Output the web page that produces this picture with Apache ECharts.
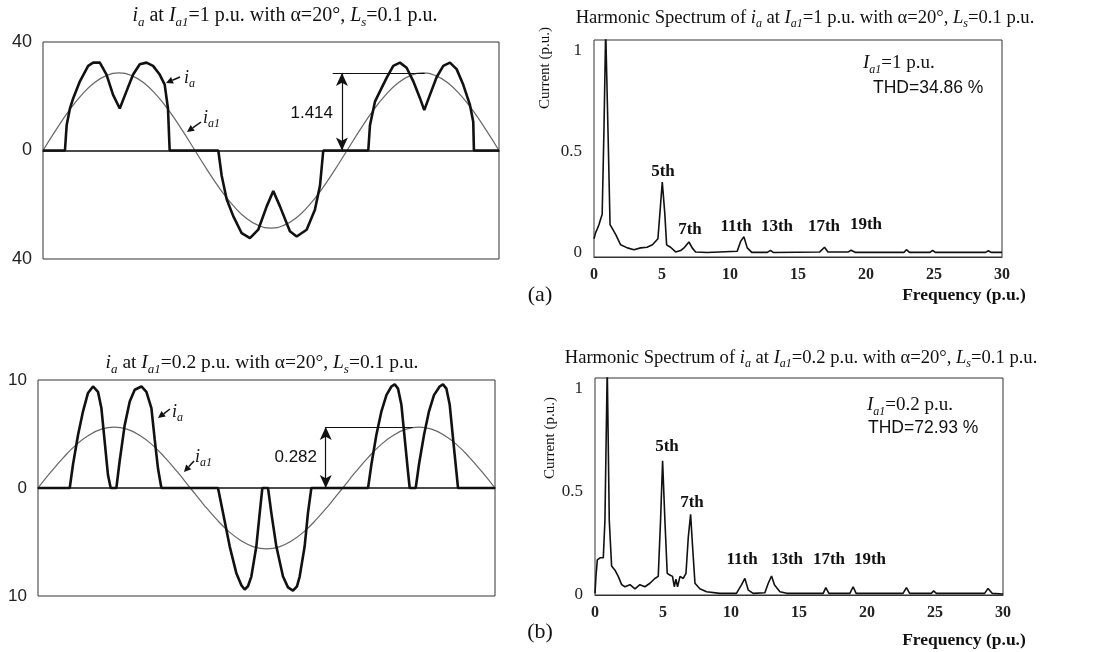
<!DOCTYPE html>
<html>
<head>
<meta charset="utf-8">
<script src="https://cdn.jsdelivr.net/npm/echarts@6/dist/echarts.min.js"></script>
<style>
  html, body { margin: 0; padding: 0; background: #fff; }
  #main { width: 1104px; height: 652px; }
</style>
</head>
<body>
<div id="main"></div>
<script>
// phase angle (deg) used for the fundamental samples
var angles = [0,15,30,45,60,75,90,105,120,135,150,165,180,195,210,225,240,255,270,285,300,315,330,345,360,375,390,405,420,435,450,465,480,495,510,525,540];
// i_a1 at Ia1 = 1 p.u.
var fundTop = [0,7.4,14.3,20.2,24.8,27.6,28.6,27.6,24.8,20.2,14.3,7.4,0,-7.4,-14.3,-20.2,-24.8,-27.6,-28.6,-27.6,-24.8,-20.2,-14.3,-7.4,0,7.4,14.3,20.2,24.8,27.6,28.6,27.6,24.8,20.2,14.3,7.4,0];
// i_a1 at Ia1 = 0.2 p.u.
var fundBot = [0,1.46,2.82,3.99,4.88,5.45,5.64,5.45,4.88,3.99,2.82,1.46,0,-1.46,-2.82,-3.99,-4.88,-5.45,-5.64,-5.45,-4.88,-3.99,-2.82,-1.46,0,1.46,2.82,3.99,4.88,5.45,5.64,5.45,4.88,3.99,2.82,1.46,0];

// i_a at Ia1 = 1 p.u.
var iaTopX = [0,26,28,31.9,35.8,43.7,53.5,59.4,67.3,75.2,83,90.9,98.8,106.7,114.6,122.5,130.3,138.2,144.1,148,150,
  207.6,211.6,217.5,225.3,235.3,245.1,254.9,264.9,272.7,280.6,292.4,300.4,312.2,322,328,331.9,
  385.2,387.2,393.1,399,406.9,414.8,422.7,430.6,438.4,446.4,451.5,458.2,466.1,474,481.9,489.8,497.6,505.6,509.5,510.3,540];
var iaTopY = [0,0,9.3,15.5,19.3,25.5,31.2,32.4,32.4,28,20.5,15.5,21.8,28,31.8,32.4,31.2,28,24.3,15.5,0,
  0,-9.3,-18,-24.2,-30.5,-32.3,-29.2,-20.6,-14.9,-20.6,-29.8,-31.7,-29.2,-21.8,-13,0,
  0,9.3,18,21.8,26.8,31.2,32.4,30.5,25.6,19.3,14.9,20.5,27,31.2,32.4,30,24.3,16.8,10.6,0,0];

// i_a at Ia1 = 0.2 p.u.
var iaBotX = [0,37.5,41.4,47.3,53.2,59.1,65,70.9,74.9,78.8,82.7,85.9,92.6,96.5,102.4,108.4,114.3,122.2,128.1,134,137.9,141.8,145.8,
  212.7,218.6,226.5,234.4,240.3,244.2,248.1,252.1,258,262,265.1,271.8,275.7,281.6,289.5,295.4,301.3,306,309.2,315.1,319,323,
  390,394,399.8,405.8,411.7,417.6,421.5,425.4,429.4,433.3,437.2,439.2,446.3,450.2,456.1,462,467.9,474.6,478.5,482.6,486.5,490.4,494.4,496.3,540];
var iaBotY = [0,0,2.2,4.9,7.1,8.8,9.4,8.9,7.4,4.3,1.2,0,0,2.5,5.8,8,9.1,9.4,8.9,7.4,4.5,1.8,0,
  0,-2.3,-5.4,-7.9,-9,-9.4,-9.1,-8.2,-5.4,-2.3,0,0,-2.3,-5.4,-8.2,-9.2,-9.5,-9.1,-8.2,-5.4,-2.3,0,
  0,2.2,4.9,7.1,8.6,9.4,9.6,9.2,7.7,4.6,1.5,0,0,2.2,4.9,7.1,8.6,9.4,9.6,9.2,7.7,4.6,1.5,0,0];

// harmonic spectrum, Ia1 = 1 p.u.
var specTopF = [0,0.12,0.25,0.37,0.5,0.6,0.73,0.86,1.03,1.18,1.35,1.6,1.96,2.45,2.94,3.43,3.9,4.3,4.5,4.7,4.85,5.02,5.2,5.34,5.63,6,6.37,6.66,6.98,7.22,7.47,8.33,10.53,10.78,11.02,11.27,11.6,12.74,12.98,13.2,16.6,16.95,17.2,18.7,18.9,19.2,22.8,22.97,23.2,24.7,24.9,25.1,28.8,29,29.2,30];
var specTopI = [0.07,0.1,0.12,0.14,0.17,0.19,0.6,1.1,0.6,0.14,0.12,0.09,0.04,0.025,0.016,0.025,0.028,0.04,0.055,0.07,0.2,0.35,0.2,0.04,0.028,0.005,0.012,0.028,0.054,0.025,0.005,0.002,0.008,0.057,0.08,0.025,0.003,0.003,0.013,0.002,0.005,0.028,0.005,0.005,0.013,0.003,0.003,0.016,0.003,0.003,0.013,0.003,0.003,0.011,0.003,0.003];

// harmonic spectrum, Ia1 = 0.2 p.u.
var specBotF = [0,0.07,0.17,0.37,0.61,0.73,0.9,1.05,1.22,1.47,1.71,1.96,2.2,2.57,2.94,3.3,3.67,4.04,4.4,4.65,4.82,4.97,5.14,5.31,5.5,5.7,5.83,5.95,6.07,6.25,6.49,6.69,6.86,7.03,7.18,7.35,7.71,8.2,9.18,10.4,10.78,11.02,11.27,11.63,12.49,12.74,12.98,13.2,13.6,14.1,16.78,16.97,17.2,18.74,18.98,19.2,22.65,22.9,23.14,24.74,24.9,25.1,28.65,28.9,29.2,30];
var specBotI = [0.008,0.09,0.17,0.18,0.18,0.36,1.1,0.36,0.14,0.12,0.09,0.05,0.04,0.05,0.03,0.05,0.04,0.057,0.08,0.09,0.36,0.65,0.36,0.105,0.097,0.09,0.04,0.076,0.04,0.09,0.08,0.105,0.28,0.39,0.23,0.057,0.03,0.016,0.008,0.008,0.05,0.08,0.024,0.008,0.011,0.057,0.092,0.048,0.016,0.008,0.008,0.036,0.008,0.008,0.04,0.008,0.008,0.036,0.008,0.008,0.02,0.008,0.008,0.032,0.008,0.005];

var harmLabels = ['5th','7th','11th','13th','17th','19th'];

function zip(xs, ys) { return xs.map(function (x, i) { return [x, ys[i]]; }); }

var SERIF = 'Liberation Serif', SANS = 'Liberation Sans';

function rich(fs) {
  return {
    i: { fontStyle: 'italic', fontSize: fs, fontFamily: SERIF, lineHeight: fs + 6 },
    s: { fontStyle: 'italic', fontSize: Math.round(fs * 0.65), fontFamily: SERIF, lineHeight: Math.round(fs * 0.65), verticalAlign: 'bottom' }
  };
}

function T(x, y, text, o) {
  o = o || {};
  var fs = o.fs || 15;
  return {
    type: 'text', x: x, y: y, rotation: o.rot || 0, silent: true, z: 100,
    style: {
      text: text, fontFamily: o.ff || SERIF, fontSize: fs, fontWeight: o.fw || 'normal',
      fill: '#111', lineHeight: fs + 6,
      align: o.al || 'left', textAlign: o.al || 'left',
      verticalAlign: 'middle', textVerticalAlign: 'middle',
      rich: rich(fs)
    }
  };
}

function arrow(x1, y1, x2, y2) {
  var dx = x2 - x1, dy = y2 - y1, L = Math.sqrt(dx * dx + dy * dy);
  var ux = dx / L, uy = dy / L;
  var bx = x2 - ux * 7, by = y2 - uy * 7, px = -uy * 3.5, py = ux * 3.5;
  return [
    { type: 'line', silent: true, z: 100, shape: { x1: x1, y1: y1, x2: bx, y2: by }, style: { stroke: '#111', lineWidth: 1.5 } },
    { type: 'polygon', silent: true, z: 100, shape: { points: [[x2, y2], [bx + px, by + py], [bx - px, by - py]] }, style: { fill: '#111' } }
  ];
}

var gridBase = { show: true, borderColor: '#333', borderWidth: 1, backgroundColor: '#fff', containLabel: false };

function waveX(gi) {
  return {
    gridIndex: gi, type: 'value', min: 0, max: 540,
    axisLine: { onZero: true, lineStyle: { color: '#111', width: 1.5 } },
    axisTick: { show: false }, axisLabel: { show: false }, splitLine: { show: false }
  };
}
function waveY(gi, lim, fs) {
  return {
    gridIndex: gi, type: 'value', min: -lim, max: lim, interval: lim,
    axisLine: { show: false }, axisTick: { show: false }, splitLine: { show: false },
    axisLabel: { formatter: function (v) { return String(Math.abs(v)); }, fontFamily: SANS, fontSize: fs, color: '#222', margin: 11 }
  };
}
function specX(gi) {
  return {
    gridIndex: gi, type: 'value', min: 0, max: 30, interval: 5,
    axisLine: { show: true, onZero: false, lineStyle: { color: '#333' } },
    axisTick: { show: false }, splitLine: { show: false },
    axisLabel: { fontFamily: SERIF, fontSize: 16, fontWeight: 'bold', color: '#222', margin: 10 }
  };
}
function specY(gi, mn) {
  return {
    gridIndex: gi, type: 'value', min: mn, max: 1.05,
    axisLine: { show: false }, axisTick: { show: false }, splitLine: { show: false },
    axisLabel: { customValues: [0, 0.5, 1], fontFamily: SERIF, fontSize: 17, color: '#222', margin: 12 }
  };
}

var fundStyle = { color: '#666', width: 1.2 };
var iaStyle = { color: '#111', width: 2.6 };
var specStyle = { color: '#111', width: 1.6 };

function annot(xv, x0, x1, yv) {
  return {
    silent: true, animation: false, symbol: ['none', 'none'], label: { show: false },
    lineStyle: { color: '#111', width: 1.2, type: 'solid' },
    data: [
      [{ coord: [x0, yv] }, { coord: [x1, yv] }],
      [{ coord: [xv, yv], symbol: 'arrow', symbolSize: [9, 13] }, { coord: [xv, 0], symbol: 'arrow', symbolSize: [9, 13] }]
    ]
  };
}

var chart = echarts.init(document.getElementById('main'));

var graphics = [
  T(285, 16, '{i|i}{s|a} at {i|I}{s|a1}=1 p.u. with α=20°, {i|L}{s|s}=0.1 p.u.', { fs: 20, al: 'center' }),
  T(805, 18, 'Harmonic Spectrum of {i|i}{s|a} at {i|I}{s|a1}=1 p.u. with α=20°, {i|L}{s|s}=0.1 p.u.', { fs: 18.6, al: 'center' }),
  T(262, 363, '{i|i}{s|a} at {i|I}{s|a1}=0.2 p.u. with α=20°, {i|L}{s|s}=0.1 p.u.', { fs: 19.5, al: 'center' }),
  T(801, 358, 'Harmonic Spectrum of {i|i}{s|a} at {i|I}{s|a1}=0.2 p.u. with α=20°, {i|L}{s|s}=0.1 p.u.', { fs: 18.6, al: 'center' }),

  T(184, 78, '{i|i}{s|a}', { fs: 18 }),
  T(203, 118, '{i|i}{s|a1}', { fs: 18 }),
  T(172, 412, '{i|i}{s|a}', { fs: 18 }),
  T(195, 457, '{i|i}{s|a1}', { fs: 18 }),
  T(333, 113, '1.414', { ff: SANS, fs: 17, al: 'right' }),
  T(317, 457, '0.282', { ff: SANS, fs: 17, al: 'right' }),

  T(545, 68, 'Current (p.u.)', { fs: 15, al: 'center', rot: Math.PI / 2 }),
  T(550, 438, 'Current (p.u.)', { fs: 15, al: 'center', rot: Math.PI / 2 }),
  T(964, 295, 'Frequency (p.u.)', { fs: 17.5, fw: 'bold', al: 'center' }),
  T(964, 640, 'Frequency (p.u.)', { fs: 17.5, fw: 'bold', al: 'center' }),
  T(540, 295, '(a)', { fs: 22, al: 'center' }),
  T(540, 632, '(b)', { fs: 22, al: 'center' }),

  T(863, 63, '{i|I}{s|a1}=1 p.u.', { fs: 19 }),
  T(873, 88, 'THD=34.86 %', { ff: SANS, fs: 17.5 }),
  T(867, 405, '{i|I}{s|a1}=0.2 p.u.', { fs: 19 }),
  T(868, 428, 'THD=72.93 %', { ff: SANS, fs: 17.5 })
];

var topLabelPos = [[663, 172], [690, 230], [736, 227], [777, 227], [824, 227], [866, 225]];
var botLabelPos = [[667, 447], [692, 503], [742, 560], [787, 560], [829, 560], [870, 560]];
harmLabels.forEach(function (h, k) {
  graphics.push(T(topLabelPos[k][0], topLabelPos[k][1], h, { fs: 17, fw: 'bold', al: 'center' }));
  graphics.push(T(botLabelPos[k][0], botLabelPos[k][1], h, { fs: 17, fw: 'bold', al: 'center' }));
});

graphics = graphics
  .concat(arrow(180, 77, 166, 83))
  .concat(arrow(201, 122, 187, 132))
  .concat(arrow(170, 409, 158, 418))
  .concat(arrow(194, 461, 184, 472));

chart.setOption({
  animation: false,
  backgroundColor: '#fff',
  grid: [
    Object.assign({ left: 43, top: 42, width: 456, height: 217 }, gridBase),
    Object.assign({ left: 594, top: 40, width: 408, height: 217 }, gridBase),
    Object.assign({ left: 38, top: 380, width: 457, height: 216 }, gridBase),
    Object.assign({ left: 595, top: 378, width: 408, height: 217 }, gridBase)
  ],
  xAxis: [waveX(0), specX(1), waveX(2), specX(3)],
  yAxis: [waveY(0, 40, 18), specY(1, -0.02), waveY(2, 10, 17), specY(3, 0)],
  series: [
    { name: 'ia1 (1 p.u.)', type: 'line', xAxisIndex: 0, yAxisIndex: 0, data: zip(angles, fundTop), smooth: true, showSymbol: false, symbol: 'none', lineStyle: fundStyle, z: 2,
      markLine: annot(354, 343, 452, 28.6) },
    { name: 'ia (1 p.u.)', type: 'line', xAxisIndex: 0, yAxisIndex: 0, data: zip(iaTopX, iaTopY), showSymbol: false, symbol: 'none', lineStyle: iaStyle, z: 3 },
    { name: 'spectrum (1 p.u.)', type: 'line', xAxisIndex: 1, yAxisIndex: 1, data: zip(specTopF, specTopI), showSymbol: false, symbol: 'none', lineStyle: specStyle, clip: true },
    { name: 'ia1 (0.2 p.u.)', type: 'line', xAxisIndex: 2, yAxisIndex: 2, data: zip(angles, fundBot), smooth: true, showSymbol: false, symbol: 'none', lineStyle: fundStyle, z: 2,
      markLine: annot(340, 340, 443, 5.64) },
    { name: 'ia (0.2 p.u.)', type: 'line', xAxisIndex: 2, yAxisIndex: 2, data: zip(iaBotX, iaBotY), showSymbol: false, symbol: 'none', lineStyle: iaStyle, z: 3 },
    { name: 'spectrum (0.2 p.u.)', type: 'line', xAxisIndex: 3, yAxisIndex: 3, data: zip(specBotF, specBotI), showSymbol: false, symbol: 'none', lineStyle: specStyle, clip: true }
  ],
  graphic: graphics
});
</script>
</body>
</html>
